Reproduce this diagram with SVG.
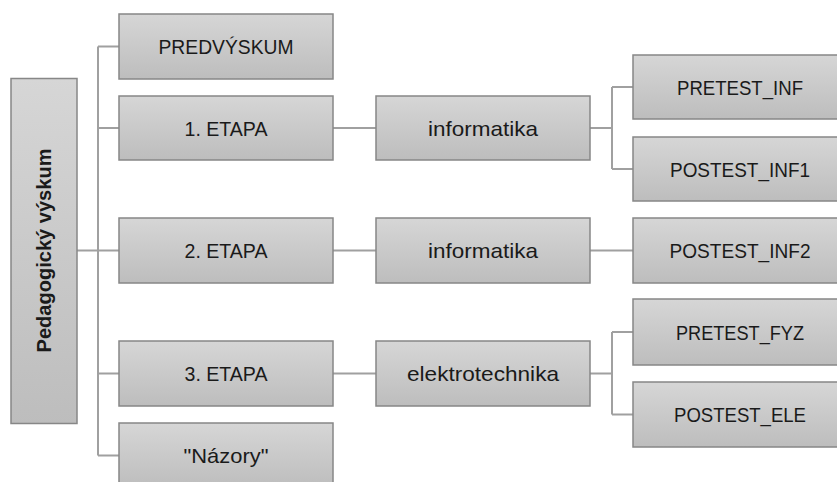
<svg xmlns="http://www.w3.org/2000/svg" width="837" height="482" viewBox="0 0 837 482">
  <defs>
    <linearGradient id="boxFill" x1="0" y1="0" x2="0" y2="1">
      <stop offset="0" stop-color="#d6d6d6"/>
      <stop offset="1" stop-color="#bdbdbd"/>
    </linearGradient>
    <style>
      .box { fill: url(#boxFill); stroke: #878787; stroke-width: 1.5; }
      .lbl { font-family: "Liberation Sans", Arial, sans-serif; font-size: 21px; fill: #1a1a1a; text-anchor: middle; }
      .root { font-weight: bold; font-size: 20px; }
      .conn { fill: none; stroke: #a0a0a0; stroke-width: 2; }
    </style>
  </defs>
  <rect width="837" height="482" fill="#ffffff"/>

  <!-- connectors -->
  <g id="connectors" class="conn">
    <path d="M77 250.5 H98 M98 46.5 V455.5"/>
    <path d="M98 46.5 H119 M98 128 H119 M98 250.5 H119 M98 373.5 H119 M98 455.5 H119"/>
    <path d="M333 128 H376 M590 128 H612 M612 87 V169 M612 87 H633 M612 169 H633"/>
    <path d="M333 250.5 H376 M590 250.5 H633"/>
    <path d="M333 373.5 H376 M590 373.5 H612 M612 332 V414.5 M612 332 H633 M612 414.5 H633"/>
  </g>

  <!-- root -->
  <g id="root">
    <rect class="box" x="11" y="78.5" width="66" height="345"/>
    <text class="lbl root" transform="translate(51 250.5) rotate(-90)" x="0" y="0" textLength="204" lengthAdjust="spacingAndGlyphs">Pedagogický výskum</text>
  </g>

  <!-- second level -->
  <g id="predvyskum">
    <rect class="box" x="119" y="14" width="214" height="65"/>
    <text class="lbl" x="226" y="54" textLength="135" lengthAdjust="spacingAndGlyphs">PREDVÝSKUM</text>
  </g>
  <g id="etapa1">
    <rect class="box" x="119" y="96" width="214" height="64"/>
    <text class="lbl" x="226" y="135.5" textLength="83" lengthAdjust="spacingAndGlyphs">1. ETAPA</text>
  </g>
  <g id="etapa2">
    <rect class="box" x="119" y="218" width="214" height="65"/>
    <text class="lbl" x="226" y="258" textLength="83" lengthAdjust="spacingAndGlyphs">2. ETAPA</text>
  </g>
  <g id="etapa3">
    <rect class="box" x="119" y="341" width="214" height="65"/>
    <text class="lbl" x="226" y="381" textLength="83" lengthAdjust="spacingAndGlyphs">3. ETAPA</text>
  </g>
  <g id="nazory">
    <rect class="box" x="119" y="423" width="214" height="65"/>
    <text class="lbl" x="226" y="463" textLength="85" lengthAdjust="spacingAndGlyphs">"Názory"</text>
  </g>

  <!-- third level -->
  <g id="informatika1">
    <rect class="box" x="376" y="96" width="214" height="64"/>
    <text class="lbl" x="483" y="135.5" textLength="110" lengthAdjust="spacingAndGlyphs">informatika</text>
  </g>
  <g id="informatika2">
    <rect class="box" x="376" y="218" width="214" height="65"/>
    <text class="lbl" x="483" y="258" textLength="110" lengthAdjust="spacingAndGlyphs">informatika</text>
  </g>
  <g id="elektrotechnika">
    <rect class="box" x="376" y="341" width="214" height="65"/>
    <text class="lbl" x="483" y="381" textLength="152" lengthAdjust="spacingAndGlyphs">elektrotechnika</text>
  </g>

  <!-- fourth level -->
  <g id="pretest-inf">
    <rect class="box" x="633" y="55" width="214" height="64"/>
    <text class="lbl" x="740" y="94.5" textLength="126" lengthAdjust="spacingAndGlyphs">PRETEST_INF</text>
  </g>
  <g id="postest-inf1">
    <rect class="box" x="633" y="137" width="214" height="64"/>
    <text class="lbl" x="740" y="176.5" textLength="140" lengthAdjust="spacingAndGlyphs">POSTEST_INF1</text>
  </g>
  <g id="postest-inf2">
    <rect class="box" x="633" y="218" width="214" height="65"/>
    <text class="lbl" x="740" y="258" textLength="141" lengthAdjust="spacingAndGlyphs">POSTEST_INF2</text>
  </g>
  <g id="pretest-fyz">
    <rect class="box" x="633" y="299" width="214" height="66"/>
    <text class="lbl" x="740" y="339.5" textLength="128" lengthAdjust="spacingAndGlyphs">PRETEST_FYZ</text>
  </g>
  <g id="postest-ele">
    <rect class="box" x="633" y="382" width="214" height="65"/>
    <text class="lbl" x="740" y="422" textLength="132" lengthAdjust="spacingAndGlyphs">POSTEST_ELE</text>
  </g>
</svg>
